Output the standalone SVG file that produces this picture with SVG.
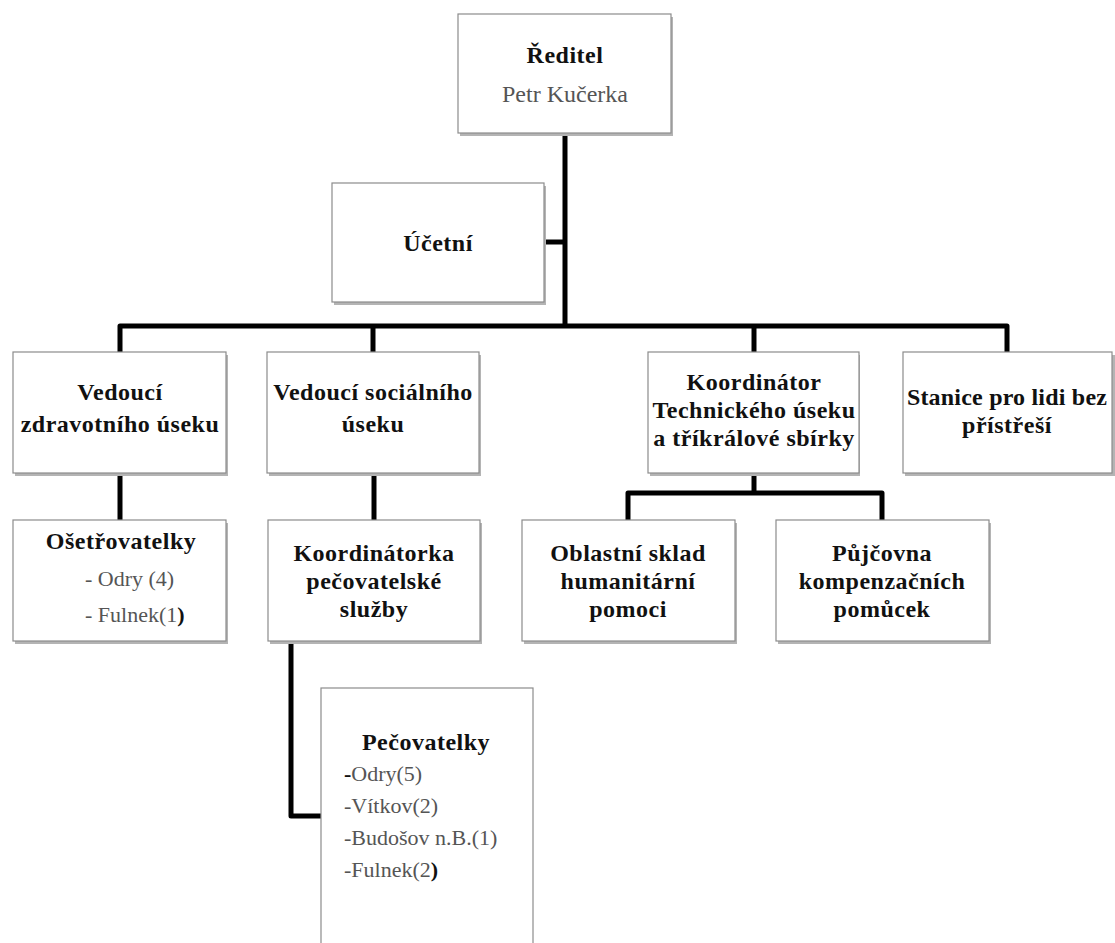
<svg xmlns="http://www.w3.org/2000/svg" width="1115" height="943" viewBox="0 0 1115 943">
<style>
.shadow{fill:#b4b4b4}
.box{fill:#fff;stroke:#8c8c8c;stroke-width:1.2}
.b{font-family:"Liberation Serif",serif;font-weight:bold;font-size:24px;letter-spacing:0.5px;fill:#111;text-anchor:middle}
.r{font-family:"Liberation Serif",serif;font-size:22px;fill:#555}
.conn{stroke:#000;stroke-width:5;fill:none;stroke-linejoin:round}
</style>
<rect width="1115" height="943" fill="#fff"/>
<g id="connectors">
<path class="conn" d="M565,133 V326"/>
<path class="conn" d="M543,242 H565"/>
<path class="conn" d="M120,352 V326 H1007 V352"/>
<path class="conn" d="M373,326 V352"/>
<path class="conn" d="M754,326 V352"/>
<path class="conn" d="M120,473 V520"/>
<path class="conn" d="M374,473 V520"/>
<path class="conn" d="M291,643 V816 H321"/>
<path class="conn" d="M754,473 V493"/>
<path class="conn" d="M628,520 V493 H882 V520"/>
</g>
<g id="reditel">
<rect class="shadow" x="460" y="17" width="213" height="119"/>
<rect class="box" x="458" y="14" width="213" height="119"/>
<text class="b" x="565" y="63">Ředitel</text>
<text class="r" x="565" y="102" style="font-size:24px;text-anchor:middle">Petr Kučerka</text>
</g>
<g id="ucetni">
<rect class="shadow" x="334" y="186" width="212" height="119"/>
<rect class="box" x="332" y="183" width="212" height="119"/>
<text class="b" x="438" y="251">Účetní</text>
</g>
<g id="vedouci-zdrav">
<rect class="shadow" x="15" y="355" width="213" height="121"/>
<rect class="box" x="13" y="352" width="213" height="121"/>
<text class="b" x="120" y="400">Vedoucí</text>
<text class="b" x="120" y="432">zdravotního úseku</text>
</g>
<g id="vedouci-soc">
<rect class="shadow" x="269" y="355" width="212" height="121"/>
<rect class="box" x="267" y="352" width="212" height="121"/>
<text class="b" x="373" y="400">Vedoucí sociálního</text>
<text class="b" x="373" y="432">úseku</text>
</g>
<g id="koordinator-tech">
<rect class="shadow" x="650" y="355" width="210" height="121"/>
<rect class="box" x="648" y="352" width="211" height="121"/>
<text class="b" x="754" y="390">Koordinátor</text>
<text class="b" x="754" y="418">Technického úseku</text>
<text class="b" x="754" y="446">a tříkrálové sbírky</text>
</g>
<g id="stanice">
<rect class="shadow" x="905" y="355" width="210" height="121"/>
<rect class="box" x="903" y="352" width="209" height="121"/>
<text class="b" x="1007" y="405" style="letter-spacing:0.2px">Stanice pro lidi bez</text>
<text class="b" x="1007" y="433">přístřeší</text>
</g>
<g id="osetrovatelky">
<rect class="shadow" x="15" y="523" width="213" height="121"/>
<rect class="box" x="13" y="520" width="213" height="121"/>
<text class="b" x="121" y="549">Ošetřovatelky</text>
<text class="r" x="85" y="586">- Odry (4)</text>
<text class="r" x="85" y="622">- Fulnek(1<tspan font-weight="bold" fill="#111">)</tspan></text>
</g>
<g id="koordinatorka">
<rect class="shadow" x="270" y="523" width="212" height="121"/>
<rect class="box" x="268" y="520" width="212" height="121"/>
<text class="b" x="374" y="561">Koordinátorka</text>
<text class="b" x="374" y="589">pečovatelské</text>
<text class="b" x="374" y="617">služby</text>
</g>
<g id="oblastni-sklad">
<rect class="shadow" x="524" y="523" width="213" height="121"/>
<rect class="box" x="522" y="520" width="213" height="121"/>
<text class="b" x="628" y="561">Oblastní sklad</text>
<text class="b" x="628" y="589">humanitární</text>
<text class="b" x="628" y="617">pomoci</text>
</g>
<g id="pujcovna">
<rect class="shadow" x="778" y="523" width="213" height="121"/>
<rect class="box" x="776" y="520" width="213" height="121"/>
<text class="b" x="882" y="561">Půjčovna</text>
<text class="b" x="882" y="589">kompenzačních</text>
<text class="b" x="882" y="617">pomůcek</text>
</g>
<g id="pecovatelky">
<rect class="box" x="321" y="688" width="212" height="270"/>
<text class="b" x="426" y="750">Pečovatelky</text>
<text class="r" x="344" y="781"><tspan font-weight="bold" fill="#111">-</tspan>Odry(5)</text>
<text class="r" x="344" y="813">-Vítkov(2)</text>
<text class="r" x="344" y="845">-Budošov n.B.(1)</text>
<text class="r" x="344" y="877">-Fulnek(2<tspan font-weight="bold" fill="#111">)</tspan></text>
</g>
</svg>
